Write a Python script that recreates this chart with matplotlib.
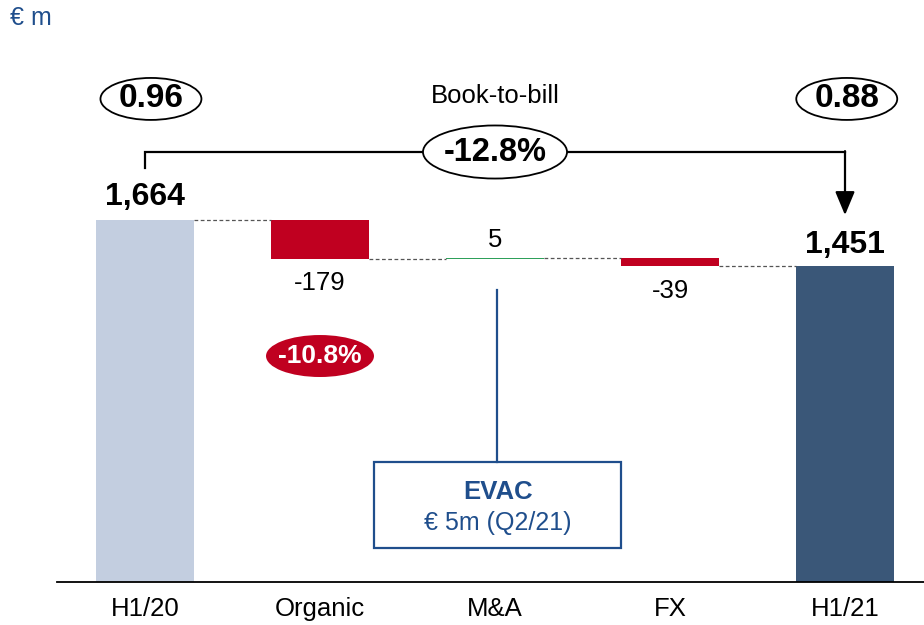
import matplotlib.pyplot as plt
from matplotlib.patches import Ellipse, Rectangle

# data
categories = ['H1/20', 'Organic', 'M&A', 'FX', 'H1/21']
start_value = 1664
changes = [-179, 5, -39]
end_value = 1451
value_labels = ['1,664', '-179', '5', '-39', '1,451']
book_to_bill = ['0.96', '0.88']
total_change = '-12.8%'
organic_change = '-10.8%'

RED = '#C00020'
LIGHT = '#C3CEE0'
DARK = '#3A5778'
GREEN = '#2EA05A'
BLUE = '#1F4E8C'
plt.rcParams['font.family'] = ['Liberation Sans', 'DejaVu Sans']

fig = plt.figure(figsize=(9.24, 6.25), dpi=100)
ax = fig.add_axes([0, 0, 1, 1])
ax.set_xlim(-145 / 175, (924 - 145) / 175)
ax.set_ylim(-43 / 0.2175, 582 / 0.2175)
ax.axis('off')

w = 0.56
# totals
ax.bar(0, start_value, width=w, color=LIGHT)
ax.bar(4, end_value, width=w, color=DARK)

# changes (waterfall)
level = start_value
levels = [start_value]
for i, c in enumerate(changes, start=1):
    col = RED if c < 0 else GREEN
    ax.bar(i, abs(c), bottom=min(level, level + c), width=w, color=col, linewidth=0)
    level += c
    levels.append(level)

# dashed connectors between bars
for i in range(4):
    ax.plot([i + w / 2, i + 1 - w / 2], [levels[i], levels[i]], ls=(0, (3, 2)),
            color='#555555', lw=0.9)

# value labels
ax.text(0, start_value + 105, value_labels[0], ha='center', va='center',
        fontsize=23, fontweight='bold')
ax.text(4, end_value + 100, value_labels[4], ha='center', va='center',
        fontsize=23, fontweight='bold')
for i, c in enumerate(changes, start=1):
    if c < 0:
        ax.text(i, levels[i] - 112, value_labels[i], ha='center', va='center', fontsize=18.5)
    else:
        ax.text(i, levels[i] + 82, value_labels[i], ha='center', va='center', fontsize=18.5)

# baseline and categories
ax.plot([-0.503, 4.46], [0, 0], color='black', lw=1.3)
for i, cat in enumerate(categories):
    ax.text(i, -122, cat, ha='center', va='center', fontsize=18.5)

# book-to-bill
ax.text(2, 2234, 'Book-to-bill', ha='center', va='center', fontsize=18.5)
for x, t in zip([0.034, 4.01], book_to_bill):
    ax.add_patch(Ellipse((x, 2221), 0.577, 193, facecolor='white',
                         edgecolor='black', lw=1.3))
    ax.text(x, 2221, t, ha='center', va='center', fontsize=24, fontweight='bold')

# bracket with arrow
by = 1977
ax.plot([0, 0, 4], [1903, by, by], color='black', lw=1.6, solid_joinstyle='miter')
ax.annotate('', xy=(4, 1687), xytext=(4, by + 4),
            arrowprops=dict(arrowstyle='-|>,head_length=0.72,head_width=0.3',
                            color='black', lw=1.6, mutation_scale=20,
                            shrinkA=0, shrinkB=0))
ax.add_patch(Ellipse((2, by), 0.823, 244, facecolor='white', edgecolor='black', lw=1.3, zorder=3))
ax.text(2, by, total_change, ha='center', va='center', fontsize=23.5, fontweight='bold', zorder=4)

# organic growth badge
ax.add_patch(Ellipse((1, 1039), 0.617, 193, facecolor=RED, edgecolor='none'))
ax.text(1, 1039, organic_change, ha='center', va='center', fontsize=19,
        fontweight='bold', color='white')

# EVAC call-out
ax.plot([2.01, 2.01], [1343, 552], color=BLUE, lw=1.6)
ax.add_patch(Rectangle((1.309, 156), 2.72 - 1.309, 552 - 156, facecolor='white',
                       edgecolor=BLUE, lw=1.6))
ax.text(2.015, 414, 'EVAC', ha='center', va='center', fontsize=18.5,
        fontweight='bold', color=BLUE)
ax.text(2.015, 271, '€ 5m (Q2/21)', ha='center', va='center', fontsize=18, color=BLUE)

fig.text(10 / 924, 1 - 18 / 625, '€ m', ha='left', va='center', fontsize=18, color=BLUE)

fig.savefig('out.png', dpi=100)
